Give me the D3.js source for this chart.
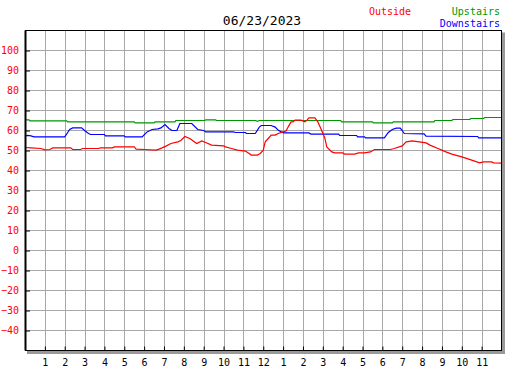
<!DOCTYPE html>
<html>
<head>
<meta charset="utf-8">
<script src="https://cdn.jsdelivr.net/npm/d3@7"></script>
<style>
  body { margin: 0; background: #fff; }
  text { font-family: "DejaVu Sans Mono", monospace; }
</style>
</head>
<body>
<div class="chart"></div>
<script>
var width = 527,
    height = 370;

var title = "06/23/2023";
var hourTicks = d3.range(1, 24);
var tempTicks = d3.range(-40, 101, 10);

// [hour of day, degrees]
var outside = [
  [0, 51.5], [0.3, 51.3], [0.8, 51], [1.0, 50.3], [1.25, 50.5], [1.4, 51.3], [2.3, 51.3],
  [2.4, 50.5], [2.8, 50.5], [2.9, 51], [3.7, 51], [3.8, 51.3], [4.4, 51.3], [4.5, 51.8],
  [5.5, 51.8], [5.6, 50.7], [6.0, 50.5], [6.6, 50.2], [6.75, 50.7], [6.9, 51.3], [7.1, 52.2],
  [7.35, 53.5], [7.7, 54.3], [7.85, 55], [8.05, 57], [8.3, 56], [8.65, 53.5], [8.9, 54.8],
  [9.1, 54], [9.4, 52.7], [10.0, 52.3], [10.1, 51.8], [10.4, 51], [10.7, 50.2], [11.1, 49.7],
  [11.25, 48.8], [11.4, 47.7], [11.7, 47.7], [11.85, 48.5], [12.0, 50.2], [12.1, 54.3],
  [12.25, 56], [12.4, 57.7], [12.6, 57.7], [12.75, 58.5], [13.0, 59.3], [13.15, 59.7],
  [13.25, 61.7], [13.4, 64.3], [13.5, 64.3], [13.6, 65.2], [13.9, 65.2], [14.1, 64.3],
  [14.2, 65.2], [14.3, 66.3], [14.6, 66.3], [14.75, 64.3], [14.9, 61], [15.1, 56.3],
  [15.2, 51.8], [15.45, 49.3], [15.6, 48.8], [16.0, 48.8], [16.1, 48.2], [16.6, 48.2],
  [16.8, 48.8], [17.1, 48.8], [17.4, 49.3], [17.6, 50.5], [18.4, 50.5], [18.6, 51],
  [19.0, 52.3], [19.2, 54.3], [19.5, 54.8], [19.85, 54.3], [20.2, 53.8], [20.4, 52.7],
  [20.8, 51], [21.2, 49.3], [21.5, 48.2], [22.0, 46.8], [22.5, 45.2], [22.9, 43.8],
  [23.1, 44.3], [23.5, 44.3], [23.6, 43.8], [24, 43.7]
];

var upstairs = [
  [0, 65.3], [0.2, 65.3], [0.25, 64.85], [2.1, 64.85], [2.15, 64.3], [5.5, 64.3], [5.55, 63.8],
  [6.5, 63.8], [6.55, 64.3], [7.55, 64.3], [7.6, 65], [9.05, 65], [9.1, 65.3], [9.6, 65.3],
  [9.65, 65], [11.6, 65], [11.7, 64.6], [11.8, 65], [15.9, 65], [15.95, 64.3], [17.5, 64.3],
  [17.55, 63.8], [18.5, 63.8], [18.55, 64.3], [20.6, 64.3], [20.65, 65], [21.5, 65],
  [21.55, 65.5], [22.4, 65.5], [22.45, 66], [23.1, 66], [23.15, 66.5], [24, 66.5]
];

var downstairs = [
  [0, 57.3], [0.15, 57.6], [0.3, 57.3], [0.45, 56.8], [2.0, 56.8], [2.15, 59], [2.25, 60.5],
  [2.4, 61.3], [2.85, 61.3], [3.0, 60], [3.2, 58.5], [3.3, 58], [4.0, 58], [4.05, 57.3],
  [5.0, 57.3], [5.05, 56.8], [5.9, 56.8], [6.15, 59.3], [6.4, 60.5], [6.7, 60.8], [6.85, 61.3],
  [7.05, 63], [7.25, 61], [7.4, 60], [7.65, 60], [7.8, 63.5], [8.4, 63.5], [8.7, 60.5],
  [9.0, 60], [9.1, 59.3], [10.5, 59.3], [10.6, 59], [11.1, 59], [11.15, 58.5], [11.6, 58.5],
  [11.8, 61.7], [11.9, 62.5], [12.4, 62.5], [12.6, 61.7], [12.75, 60.2], [12.9, 59.3],
  [13.05, 58.8], [14.3, 58.8], [14.4, 58.2], [15.8, 58.2], [15.85, 57.5], [16.7, 57.5],
  [16.75, 56.8], [17.1, 56.8], [17.15, 56.3], [18.1, 56.3], [18.3, 59], [18.5, 60.5],
  [18.7, 61.2], [18.9, 61.2], [19.0, 60], [19.1, 58.5], [20.1, 58.3], [20.2, 57.2],
  [22.8, 57], [22.85, 56.3], [24, 56.3]
];

var plotLeft = 25, plotRight = 501.5, plotTop = 30.5, plotBottom = 350.5;

var x = d3.scaleLinear().domain([0, 24]).range([plotLeft, plotRight]);
var y = d3.scaleLinear().domain([-50, 110]).range([plotBottom, plotTop]);

var svg = d3.select(".chart").append("svg")
    .attr("width", width)
    .attr("height", height);

// shadow
svg.append("rect")
    .attr("x", plotLeft + 2)
    .attr("y", plotTop + 2)
    .attr("width", plotRight - plotLeft + 1.5)
    .attr("height", plotBottom - plotTop + 1.5)
    .style("fill", "#999");

svg.append("rect")
    .attr("x", plotLeft)
    .attr("y", plotTop)
    .attr("width", plotRight - plotLeft)
    .attr("height", plotBottom - plotTop)
    .style("fill", "white");

// grid
svg.append("g").selectAll("line")
    .data(hourTicks)
    .join("line")
    .attr("x1", d => Math.round(x(d)) + 0.5)
    .attr("x2", d => Math.round(x(d)) + 0.5)
    .attr("y1", plotTop)
    .attr("y2", plotBottom)
    .style("stroke", "#a8a8a8");

svg.append("g").selectAll("line")
    .data(tempTicks)
    .join("line")
    .attr("x1", plotLeft)
    .attr("x2", plotRight)
    .attr("y1", d => y(d))
    .attr("y2", d => y(d))
    .style("stroke", "#a8a8a8");

// lines
var line = d3.line()
    .x(d => x(d[0]))
    .y(d => y(d[1]));

var series = [
  { data: upstairs, color: "#009600" },
  { data: downstairs, color: "#0000ff" },
  { data: outside, color: "#ff0000" }
];

series.forEach(s => {
  svg.append("path")
      .attr("d", line(s.data))
      .style("fill", "none")
      .style("stroke", s.color)
      .style("stroke-width", 1.2);
});

// frame
svg.append("rect")
    .attr("x", plotLeft + 0.5)
    .attr("y", plotTop)
    .attr("width", plotRight - plotLeft - 0.5)
    .attr("height", plotBottom - plotTop)
    .style("fill", "none")
    .style("stroke", "black");

svg.append("line")
    .attr("x1", plotLeft + 0.5).attr("x2", plotLeft + 0.5)
    .attr("y1", plotTop).attr("y2", plotBottom)
    .style("stroke", "black")
    .style("stroke-width", 2);

// axes
var yAxis = svg.append("g")
    .attr("transform", `translate(${plotLeft},0)`)
    .call(d3.axisLeft(y).tickValues(tempTicks).tickSize(-5).tickPadding(6));

yAxis.select(".domain").remove();
yAxis.selectAll("line").style("stroke", "black");
yAxis.selectAll("text")
    .style("fill", "#ff0000")
    .style("font-size", "10px")
    .style("font-family", "DejaVu Sans Mono");

var xAxis = svg.append("g")
    .attr("transform", `translate(0,${plotBottom})`)
    .call(d3.axisBottom(x).tickValues(hourTicks).tickSize(-4).tickPadding(8)
      .tickFormat(h => h % 12 === 0 ? 12 : h % 12));

xAxis.select(".domain").remove();
xAxis.selectAll("line").style("stroke", "black");
xAxis.selectAll("text")
    .style("fill", "black")
    .style("font-size", "10px")
    .style("font-family", "DejaVu Sans Mono");

// title and legend
svg.append("text")
    .attr("x", 262)
    .attr("y", 25)
    .attr("text-anchor", "middle")
    .style("font-size", "13px")
    .text(title);

svg.append("text")
    .attr("x", 369)
    .attr("y", 15)
    .style("font-size", "10px")
    .style("fill", "#ff0000")
    .text("Outside");

svg.append("text")
    .attr("x", 500)
    .attr("y", 15)
    .attr("text-anchor", "end")
    .style("font-size", "10px")
    .style("fill", "#009600")
    .text("Upstairs");

svg.append("text")
    .attr("x", 500)
    .attr("y", 27)
    .attr("text-anchor", "end")
    .style("font-size", "10px")
    .style("fill", "#0000ff")
    .text("Downstairs");
</script>
</body>
</html>
